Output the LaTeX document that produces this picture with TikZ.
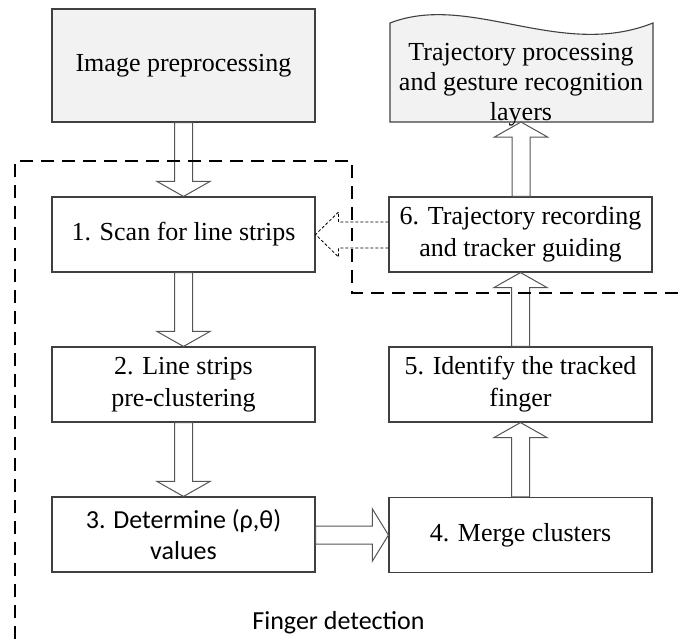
\documentclass[tikz,border=0pt]{standalone}
\usepackage{fontspec}
\setmainfont{Liberation Serif}
\newfontfamily\labelsans{Carlito}
\usetikzlibrary{calc}

\definecolor{boxline}{HTML}{404040}
\definecolor{arrowline}{HTML}{555555}
\definecolor{panelfill}{HTML}{F2F2F2}

\tikzset{
  stage/.style={draw=boxline, line width=1.1pt, fill=white,
    minimum width=263pt, minimum height=75pt, inner sep=0pt,
    align=center, font=\fontsize{26}{32}\selectfont},
  panel/.style={stage, fill=panelfill},
  plain/.style={inner sep=0pt, align=center, font=\fontsize{26}{32}\selectfont},
  blockarrow/.style={draw=arrowline, line width=1pt, fill=white, line join=miter},
  feedback/.style={draw=black, line width=0.8pt, dash pattern=on 3pt off 2pt},
  region/.style={draw=black, line width=1.8pt, dash pattern=on 13pt off 8pt}
}

% hollow block arrows between two anchors
\newcommand{\arrowdown}[2]{%
  \draw[blockarrow] let \p1=(#1), \p2=(#2) in
    (\x2-9pt,\y1) -- (\x2-9pt,\y2+15pt) -- (\x2-26.5pt,\y2+15pt) -- (\x2,\y2)
    -- (\x2+26.5pt,\y2+15pt) -- (\x2+9pt,\y2+15pt) -- (\x2+9pt,\y1) -- cycle;}
\newcommand{\arrowup}[2]{%
  \draw[blockarrow] let \p1=(#1), \p2=(#2) in
    (\x2-9pt,\y1) -- (\x2-9pt,\y2-15pt) -- (\x2-26.5pt,\y2-15pt) -- (\x2,\y2)
    -- (\x2+26.5pt,\y2-15pt) -- (\x2+9pt,\y2-15pt) -- (\x2+9pt,\y1) -- cycle;}
\newcommand{\arrowright}[2]{%
  \draw[blockarrow] let \p1=(#1), \p2=(#2) in
    (\x1,\y2+9pt) -- (\x2-16pt,\y2+9pt) -- (\x2-16pt,\y2+26pt) -- (\x2,\y2)
    -- (\x2-16pt,\y2-26pt) -- (\x2-16pt,\y2-9pt) -- (\x1,\y2-9pt) -- cycle;}

\begin{document}
\begin{tikzpicture}[x=1pt, y=-1pt]
  \useasboundingbox (0,0) rectangle (680,643);
  \clip (0,0) rectangle (680,643);

  % output layer (wavy top)
  \draw[draw=boxline, line width=1.1pt, fill=panelfill]
    (390,122) -- (390,23) .. controls (470,-8) and (560,60) .. (653,23)
    -- (653,122) -- cycle;
  \node[plain, font=\fontsize{26}{30}\selectfont] (traj) at (521,85) {Trajectory processing\\and gesture recognition\\layers};
  \coordinate (trajb) at (521,122);

  % processing stages
  \node[panel, minimum height=113pt] (pre) at (183.5,65.5) {Image preprocessing};
  \node[stage] (s1) at (183.5,234.5) {1. Scan for line strips};
  \node[stage] (s2) at (183.5,384.5) {2. Line strips\\pre-clustering};
  \node[stage, font=\labelsans\fontsize{26}{31}\selectfont] (s3) at (183.5,534.5) {3. Determine (ρ,θ)\\values};
  \node[stage] (s4) at (520.5,535) {4. Merge clusters};
  \node[stage] (s5) at (520.5,384.5) {5. Identify the tracked\\finger};
  \node[stage] (s6) at (520.5,234.5) {6. Trajectory recording\\and tracker guiding};

  % flow
  \arrowdown{pre.south}{s1.north}
  \arrowdown{s1.south}{s2.north}
  \arrowdown{s2.south}{s3.north}
  \arrowright{s3.east}{s4.west}
  \arrowup{s4.north}{s5.south}
  \arrowup{s5.north}{s6.south}
  \arrowup{s6.north}{trajb}

  % tracker guidance fed back to the scan
  \draw[feedback] let \p1=(s6.west), \p2=(s1.east) in
    (\x1,\y2+12.5pt) -- (\x2+23pt,\y2+12.5pt) -- (\x2+23pt,\y2+22.5pt) -- (\x2,\y2)
    -- (\x2+23pt,\y2-22.5pt) -- (\x2+23pt,\y2-13.5pt) -- (\x1,\y2-13.5pt);

  % finger detection region
  \draw[region] (15,660) -- (15,161) -- (352,161) -- (352,293) -- (700,293);
  \node[plain, font=\labelsans\fontsize{26}{31}\selectfont, anchor=base] (fd) at (338.5,629) {Finger detection};
\end{tikzpicture}
\end{document}
